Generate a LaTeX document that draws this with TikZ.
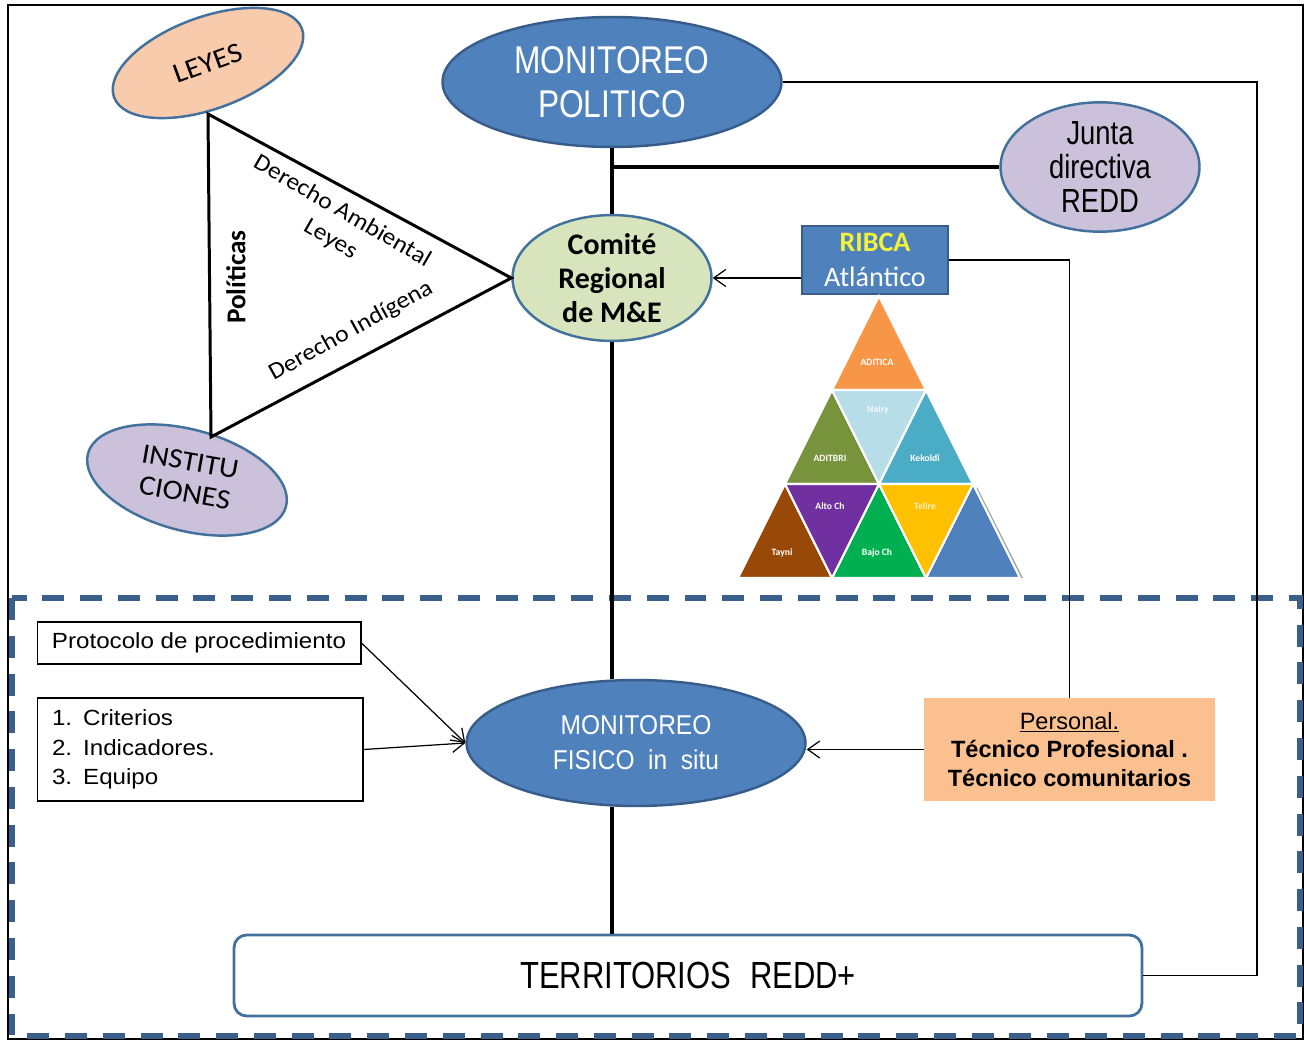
\documentclass[tikz,border=0pt]{standalone}
\usepackage{fontspec}
\setmainfont{Carlito}
\newfontfamily\arialf{Liberation Sans}
\newfontfamily\widef[FakeStretch=1.1]{Liberation Sans}
\newfontfamily\condf[FakeStretch=0.82]{Liberation Sans}
\newfontfamily\semif[FakeStretch=0.9]{Liberation Sans}
\newfontfamily\spacedf[FakeStretch=1.08]{Carlito}
\usetikzlibrary{
		calc,
		positioning,
		arrows.meta,
		shapes.geometric
	}
\tikzset{
		>={Straight Barb[length=2.4mm,width=3.4mm]}
	}
\definecolor{eline}{HTML}{41719C}
\definecolor{mblue}{HTML}{4F81BD}
\definecolor{mbline}{HTML}{385D8A}
\definecolor{leyesfill}{HTML}{F8CBAD}
\definecolor{lav}{HTML}{CCC1DA}
\definecolor{comfill}{HTML}{D7E4BD}
\definecolor{persfill}{HTML}{FAC090}
\definecolor{dashc}{HTML}{3A5F8A}
\definecolor{ribyel}{HTML}{F2F23A}
\definecolor{tadit}{HTML}{F79646}
\definecolor{taditbri}{HTML}{77933C}
\definecolor{tkek}{HTML}{4BACC6}
\definecolor{ttayni}{HTML}{984807}
\definecolor{tbajo}{HTML}{00B050}
\definecolor{tnairy}{HTML}{B7DEE8}
\definecolor{talto}{HTML}{7030A0}
\definecolor{ttelire}{HTML}{FFC000}

\begin{document}
\begin{tikzpicture}[x=0.02cm, y=-0.02cm,
		ellip/.style={ellipse, draw=eline, line width=1.4pt, inner sep=0pt, align=center},
		txtbox/.style={draw, line width=0.6pt, inner sep=0pt},
		thickline/.style={line width=2.4pt},
		triline/.style={line width=1.7pt},
		thinline/.style={line width=0.7pt},
		dashline/.style={dashc, line width=3.4pt, dash pattern=on 12.5pt off 9pt},
		tri/.style={draw=white, line width=1.2pt},
		trilbl/.style={text=white, font=\bfseries\fontsize{5.5}{6}\selectfont}]
		\useasboundingbox (0,0) rectangle (1304,1040);
		\draw[line width=1pt] (8,5) rectangle (1303,1039); % outer frame
		\draw[dashline] (12,598) rectangle (1300,1036); % field part

		% upper part
		\node[ellip, fill=leyesfill, minimum width=4cm, minimum height=1.84cm, rotate=20, font=\spacedf\fontsize{16}{18}\selectfont] (leyes) at (208,63) {LEYES};
		\node[ellip, fill=lav, minimum width=4.1cm, minimum height=1.76cm, rotate=-15, font=\spacedf\fontsize{16}{18}\selectfont] (inst) at (187,480) {\rotatebox{5}{\begin{tabular}{@{}c@{}}INSTITU\\CIONES\end{tabular}}};
		\node[ellip, draw=mbline, fill=mblue, minimum width=6.78cm, minimum height=2.6cm, text=white, font=\condf\fontsize{22}{25}\selectfont] (mpol) at (612,82) {MONITOREO\\POLITICO};
		\node[ellip, fill=lav, minimum width=3.98cm, minimum height=2.48cm, font=\condf\fontsize{19}{19.5}\selectfont] (junta) at (1100,167) {Junta\\directiva\\REDD};
		\node[ellip, fill=comfill, minimum width=3.98cm, minimum height=2.5cm, font=\bfseries\fontsize{17}{19.3}\selectfont] (comite) at (612,278) {Comité\\Regional\\de M\&E};
		\node[draw=mbline, fill=mblue, line width=0.8pt, minimum width=2.92cm, minimum height=1.36cm, inner sep=0pt, align=center, font=\fontsize{16}{20}\selectfont] (ribca) at (875,260) {\textcolor{ribyel}{\bfseries RIBCA}\\\textcolor{white}{Atlántico}};
		\coordinate (tt) at (208,114);
		\coordinate (tb) at (211,437);
		\draw[triline] (tt) -- (tb) -- (comite.west) -- cycle;
		\node[rotate=90, font=\bfseries\fontsize{15.5}{18}\selectfont] (pol) at (236,277) {Políticas};
		\node[rotate=-30, font=\spacedf\fontsize{13.5}{15}\selectfont] (dam) at (343,210) {Derecho Ambiental};
		\node[rotate=-30, font=\spacedf\fontsize{13.5}{15}\selectfont] (ley) at (330,240) {Leyes};
		\node[rotate=29, font=\spacedf\fontsize{13.5}{15}\selectfont] (dind) at (351,331) {Derecho Indígena};

		% pyramid of territorios
		\fill[gray!70] (977,487) -- (932,578) -- (1023,578) -- cycle;
		\foreach \x/\y/\c in {879/296/tadit, 832/390/taditbri, 926/390/tkek, 785/484/ttayni, 879/484/tbajo, 973/484/mblue}
			\filldraw[tri, fill=\c] (\x,\y) -- (\x-47,\y+94) -- (\x+47,\y+94) -- cycle;
		\foreach \x/\y/\c in {879/390/tnairy, 832/484/talto, 926/484/ttelire}
			\filldraw[tri, fill=\c] (\x-47,\y) -- (\x+47,\y) -- (\x,\y+94) -- cycle;
		\node[trilbl] (aditica) at (877,362) {ADITICA};
		\node[trilbl, text=white!85!tnairy] (nairy) at (878,410) {Nairy};
		\node[trilbl] (aditbri) at (830,458) {ADITBRI};
		\node[trilbl] (kekoldi) at (925,458) {Kekoldi};
		\node[trilbl] (alto) at (830,506) {Alto Ch};
		\node[trilbl, text=white!75!ttelire] (telire) at (925,506) {Telire};
		\node[trilbl] (tayni) at (782,553) {Tayni};
		\node[trilbl] (bajo) at (877,553) {Bajo Ch};

		% lower part
		\node[txtbox, minimum width=6.48cm, minimum height=0.84cm, font=\widef\fontsize{12.5}{15}\selectfont] (proto) at (199,643) {Protocolo de procedimiento};
		\node[txtbox, minimum width=6.52cm, minimum height=2.06cm, inner xsep=0.3cm, text width=5.92cm, align=left, font=\widef\fontsize{12.5}{16.7}\selectfont] (crit) at (200,749.5) {1. Criterios\\2. Indicadores.\\3. Equipo};
		\node[ellip, draw=mbline, fill=mblue, minimum width=6.78cm, minimum height=2.52cm, text=white, font=\semif\fontsize{15.5}{19.8}\selectfont] (mfis) at (636,743) {MONITOREO\\FISICO\enspace in\enspace situ};
		\node[fill=persfill, minimum width=5.82cm, minimum height=2.06cm, inner sep=0pt, align=center, font=\arialf\fontsize{13.4}{16.4}\selectfont] (pers) at (1069.5,749.5) {\underline{Personal.}\\\textbf{Técnico Profesional .}\\\textbf{Técnico comunitarios}};
		\node[draw=eline, line width=1.6pt, rounded corners=0.25cm, minimum width=18.16cm, minimum height=1.62cm, font=\condf\fontsize{21.5}{24}\selectfont] (terr) at (688,975.5) {TERRITORIOS\enspace REDD+};

		% connectors
		\draw[thickline] (mpol.south) -- (comite.north);
		\draw[thickline] (mpol.south |- junta.west) -- (junta.west);
		\draw[thickline] (comite.south) -- (comite.south |- mfis.north);
		\draw[thickline] (comite.south |- mfis.south) -- (comite.south |- terr.north);
		\coordinate (rc) at (1257,975.5);
		\draw[thinline] (mpol.east) -| (rc) -- (terr.east);
		\draw[thinline] (ribca.east) -| (pers.north);
		\draw[thinline, ->] (ribca.west |- comite.east) -- (comite.east);
		\draw[thinline, ->] (pers.west) -- (pers.west -| mfis.east);
		\draw[thinline, ->] (proto.east) -- (mfis.west);
		\draw[thinline, ->] (crit.east) -- (mfis.west);
	\end{tikzpicture}
\end{document}
